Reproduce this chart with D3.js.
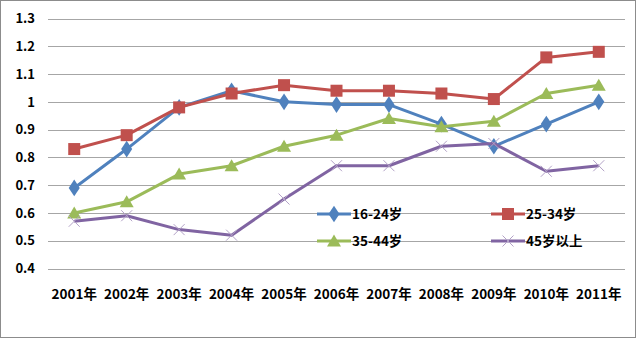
<!DOCTYPE html>
<html><head><meta charset="utf-8">
<script src="https://cdn.jsdelivr.net/npm/d3@7"></script>
<style>body{margin:0;background:#fff}svg{display:block}</style>
</head><body>
<svg id="c" width="640" height="339"></svg>
<script>
const categories = ["2001年","2002年","2003年","2004年","2005年","2006年","2007年","2008年","2009年","2010年","2011年"];
const s1624 = [0.69,0.83,0.98,1.04,1.00,0.99,0.99,0.92,0.84,0.92,1.00];
const s2534 = [0.83,0.88,0.98,1.03,1.06,1.04,1.04,1.03,1.01,1.16,1.18];
const s3544 = [0.60,0.64,0.74,0.77,0.84,0.88,0.94,0.91,0.93,1.03,1.06];
const s45 = [0.57,0.59,0.54,0.52,0.65,0.77,0.77,0.84,0.85,0.75,0.77];
const seriesNames = ["16-24岁","25-34岁","35-44岁","45岁以上"];
const yTicks = [0.4,0.5,0.6,0.7,0.8,0.9,1,1.1,1.2,1.3];

const series = [
  {name:seriesNames[0], values:s1624, color:"#4F81BD", marker:"diamond"},
  {name:seriesNames[1], values:s2534, color:"#C0504D", marker:"square"},
  {name:seriesNames[2], values:s3544, color:"#9BBB59", marker:"triangle"},
  {name:seriesNames[3], values:s45, color:"#8064A2", marker:"x"}
];

const svg = d3.select("#c");
const font = "'Noto Sans CJK SC','Liberation Sans',sans-serif";
svg.append("rect").attr("x",0.5).attr("y",0.5).attr("width",635).attr("height",337)
  .attr("fill","#fff").attr("stroke","#8c8c8c").attr("stroke-width",1);

const x = d3.scaleBand().domain(categories).range([48,625]);
const y = d3.scaleLinear().domain([0.4,1.3]).range([268.5,18.5]);

// gridlines
svg.append("g").selectAll("line").data(yTicks).join("line")
  .attr("x1",48).attr("x2",625)
  .attr("y1",d=>Math.round(y(d))+0.5).attr("y2",d=>Math.round(y(d))+0.5)
  .attr("stroke","#a6a6a6").attr("stroke-width",1);

const yAxis = svg.append("g").attr("transform","translate(39,0)")
  .call(d3.axisLeft(y).tickValues(yTicks).tickSize(0).tickPadding(4).tickFormat(d=>d3.format("")(+d.toFixed(1))));
yAxis.select(".domain").remove();
yAxis.selectAll("text").attr("font-family",font).attr("font-size",13).attr("font-weight","bold").attr("fill","#000");

const xAxis = svg.append("g").attr("transform","translate(0,286)")
  .call(d3.axisBottom(x).tickSize(0).tickPadding(3));
xAxis.select(".domain").remove();
xAxis.selectAll("text").attr("font-family",font).attr("font-size",13.5).attr("font-weight","bold").attr("fill","#000");

const cx = (i)=>x(categories[i])+x.bandwidth()/2;
const line = d3.line().x((d,i)=>cx(i)).y(d=>y(d));

function drawMarker(g, type, color, px, py){
  if(type==="diamond"){
    g.append("path").attr("d",d3.symbol(d3.symbolDiamond,80)()).attr("transform",`translate(${px},${py}) scale(1.15,1)`).attr("fill",color);
  } else if(type==="square"){
    g.append("rect").attr("x",px-6).attr("y",py-6).attr("width",12).attr("height",12).attr("fill",color);
  } else if(type==="triangle"){
    g.append("path").attr("d",`M${px},${py-6.5}L${px+7},${py+5.5}L${px-7},${py+5.5}Z`).attr("fill",color);
  } else {
    g.append("path").attr("d",`M${px-5.5},${py-5.5}L${px+5.5},${py+5.5}M${px-5.5},${py+5.5}L${px+5.5},${py-5.5}`)
      .attr("stroke","#b3a2c7").attr("stroke-width",1);
  }
}

series.forEach(s=>{
  const g = svg.append("g");
  g.append("path").datum(s.values).attr("d",line).attr("fill","none")
    .attr("stroke",s.color).attr("stroke-width",3).attr("stroke-linejoin","round");
  s.values.forEach((v,i)=>drawMarker(g,s.marker,s.color,cx(i),y(v)));
});

// legend
const legPos = [[317,214],[491,214],[317,241],[491,241]];
series.forEach((s,i)=>{
  const [lx,ly] = legPos[i];
  const g = svg.append("g");
  g.append("line").attr("x1",lx).attr("x2",lx+34).attr("y1",ly).attr("y2",ly)
    .attr("stroke",s.color).attr("stroke-width",3);
  drawMarker(g,s.marker,s.color,lx+17,ly);
  g.append("text").attr("x",lx+35).attr("y",ly+5).text(s.name)
    .attr("font-family",font).attr("font-size",13.5).attr("font-weight","bold").attr("fill","#000");
});
</script>
</body></html>
